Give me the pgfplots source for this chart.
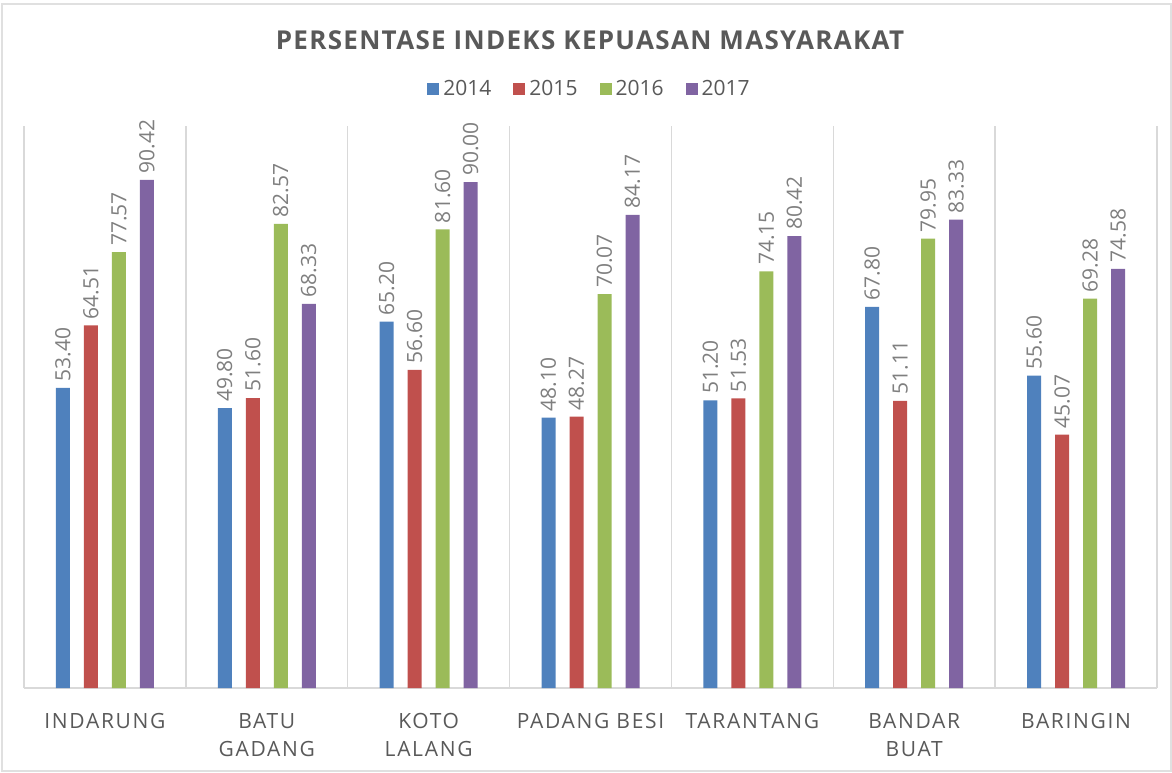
\documentclass[border=0pt]{standalone}
\usepackage{pgfplots}
\pgfplotsset{compat=1.18}
\usepackage{fontspec}
\setmainfont{Open Sans}
\newfontfamily\titlefont[LetterSpace=5]{Open Sans}
\newfontfamily\tickfont[LetterSpace=8]{Open Sans}
\definecolor{cA}{HTML}{4F81BD}
\definecolor{cB}{HTML}{C0504D}
\definecolor{cC}{HTML}{9BBB59}
\definecolor{cD}{HTML}{8064A2}
\definecolor{txt}{HTML}{595959}
\definecolor{vlab}{HTML}{7F7F7F}
\definecolor{gridc}{HTML}{D9D9D9}
\begin{document}
\begin{tikzpicture}
\useasboundingbox (0,0) rectangle (586pt,386pt);
\draw[black!12, line width=1pt] (1pt,0.5pt) rectangle (585.5pt,384pt);
\node[font=\titlefont\bfseries\fontsize{13}{16}\selectfont, text=txt] at (295pt,366pt) {PERSENTASE INDEKS KEPUASAN MASYARAKAT};
\begin{axis}[
  at={(12pt,42pt)}, anchor=south west,
  scale only axis, width=566.5pt, height=281pt,
  xmin=-0.5, xmax=6.5, ymin=0, ymax=100,
  clip=false,
  axis line style={draw=none},
  ybar, bar width=0.0865,
  xtick={0,1,2,3,4,5,6},
  xticklabels={INDARUNG,{BATU\\GADANG},{KOTO\\LALANG},PADANG BESI,TARANTANG,{BANDAR\\BUAT},BARINGIN},
  xticklabel style={align=center, font=\tickfont\fontsize{10.5}{14}\selectfont, text=txt, anchor=north, yshift=-9pt},
  major tick length=0pt, minor tick length=0pt,
  ytick=\empty,
  minor xtick={-0.5,0.5,1.5,2.5,3.5,4.5,5.5,6.5},
  xminorgrids, minor grid style={gridc, line width=0.7pt},
  extra y ticks={0}, extra y tick labels={},
  extra y tick style={ymajorgrids, major grid style={gridc, line width=0.9pt}},
  nodes near coords,
  every node near coord/.append style={rotate=90, anchor=west, font=\fontsize{10.5}{13}\selectfont, text=vlab, inner sep=2pt, xshift=1pt},
  /pgf/number format/.cd, fixed, fixed zerofill, precision=2, assume math mode=true, /pgfplots/.cd,
  legend columns=4,
  legend style={at={(0.5,1)}, anchor=center, yshift=18.5pt, draw=none, font=\fontsize{10.5}{13}\selectfont, text=txt,
    /tikz/every even column/.append style={column sep=9pt}},
  legend image code/.code={\fill[#1] (0pt,-3pt) rectangle (6pt,3pt);},
]
\addplot[fill=cA, draw=none, bar shift=-0.2595] coordinates {(0,53.40) (1,49.80) (2,65.20) (3,48.10) (4,51.20) (5,67.80) (6,55.60)};
\addplot[fill=cB, draw=none, bar shift=-0.0865] coordinates {(0,64.51) (1,51.60) (2,56.60) (3,48.27) (4,51.53) (5,51.11) (6,45.07)};
\addplot[fill=cC, draw=none, bar shift=0.0865] coordinates {(0,77.57) (1,82.57) (2,81.60) (3,70.07) (4,74.15) (5,79.95) (6,69.28)};
\addplot[fill=cD, draw=none, bar shift=0.2595] coordinates {(0,90.42) (1,68.33) (2,90.00) (3,84.17) (4,80.42) (5,83.33) (6,74.58)};
\legend{2014,2015,2016,2017}
\end{axis}
\end{tikzpicture}
\end{document}
